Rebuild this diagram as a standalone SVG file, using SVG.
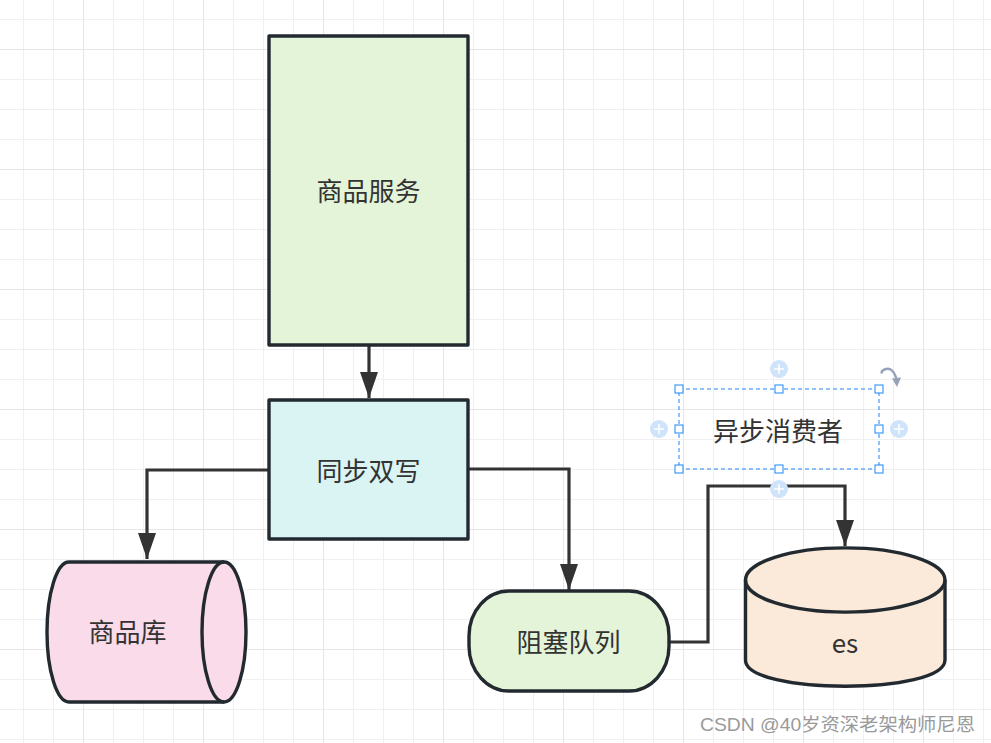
<svg xmlns="http://www.w3.org/2000/svg" width="991" height="743" viewBox="0 0 991 743">
<style>
.shape{stroke:#222a30;stroke-width:3.4;stroke-linejoin:round}
.conn{fill:none;stroke:#333333;stroke-width:3.2}
.lbl{font-family:"Noto Sans CJK SC","Noto Sans",sans-serif;font-size:26px;fill:#333333;text-anchor:middle}
.hd{fill:#ffffff;stroke:#1a87f5;stroke-width:1}
.plus{fill:#cfe3fb}
.pl{stroke:#ffffff;stroke-width:1.5}
</style>
<defs>
<pattern id="gMinor" x="23" y="19" width="30" height="30" patternUnits="userSpaceOnUse">
<path d="M0 0.5H30M0.5 0V30" stroke="#f0f0f0" stroke-width="1" fill="none"/>
</pattern>
<pattern id="gMajor" x="83" y="49" width="120" height="120" patternUnits="userSpaceOnUse">
<path d="M0 0.5H120M0.5 0V120" stroke="#e6e6e6" stroke-width="1" fill="none"/>
</pattern>
<marker id="arr" viewBox="0 0 26 18" refX="26" refY="9" markerWidth="26" markerHeight="18" markerUnits="userSpaceOnUse" orient="auto">
<path d="M0 0L26 9L0 18Z" fill="#333333"/>
</marker>
</defs>
<rect width="991" height="743" fill="#ffffff"/>
<rect width="991" height="743" fill="url(#gMinor)"/>
<rect width="991" height="743" fill="url(#gMajor)"/>

<g id="connectors">
<path class="conn" d="M369 345V398" marker-end="url(#arr)"/>
<path class="conn" d="M269 470H147V559" marker-end="url(#arr)"/>
<path class="conn" d="M469 469H569V590" marker-end="url(#arr)"/>
<path class="conn" d="M669 642H708V486H845V546" marker-end="url(#arr)"/>
</g>

<g id="node-service">
<rect class="shape" x="269" y="36" width="199" height="309" fill="#e4f4d9"/>
<text class="lbl" x="368.5" y="201">商品服务</text>
</g>

<g id="node-dualwrite">
<rect class="shape" x="269" y="400" width="199" height="139" fill="#daf3f3"/>
<text class="lbl" x="368.5" y="481">同步双写</text>
</g>

<g id="node-db">
<path class="shape" d="M69 562H224A22 70 0 0 1 224 702H69A22 70 0 0 1 69 562Z" fill="#f9dbea"/>
<path class="shape" d="M224 562A22 70 0 0 0 224 702" fill="none"/>
<text class="lbl" x="127.5" y="642">商品库</text>
</g>

<g id="node-queue">
<rect class="shape" x="469" y="591" width="200" height="100" rx="40" ry="45" fill="#e4f4d9"/>
<text class="lbl" x="568.5" y="652">阻塞队列</text>
</g>

<g id="node-es">
<path class="shape" d="M745.5 580A99.5 32 0 0 1 945 580V660C945 695 745.5 695 745.5 660Z" fill="#fbe9da"/>
<path class="shape" d="M745.5 580A99.5 32 0 0 0 945 580" fill="none"/>
<text class="lbl" x="845" y="653">es</text>
</g>

<g id="node-consumer">
<text class="lbl" x="778" y="441">异步消费者</text>
<rect x="679" y="389" width="200" height="80" fill="none" stroke="#1a87f5" stroke-width="1" stroke-dasharray="4 3"/>
<rect class="hd" x="675" y="385" width="8" height="8"/>
<rect class="hd" x="775" y="385" width="8" height="8"/>
<rect class="hd" x="875" y="385" width="8" height="8"/>
<rect class="hd" x="675" y="425" width="8" height="8"/>
<rect class="hd" x="875" y="425" width="8" height="8"/>
<rect class="hd" x="675" y="465" width="8" height="8"/>
<rect class="hd" x="775" y="465" width="8" height="8"/>
<rect class="hd" x="875" y="465" width="8" height="8"/>
<circle class="plus" cx="779" cy="369" r="9"/>
<path class="pl" d="M774 369H784M779 364V374"/>
<circle class="plus" cx="659" cy="429" r="9"/>
<path class="pl" d="M654 429H664M659 424V434"/>
<circle class="plus" cx="899" cy="429" r="9"/>
<path class="pl" d="M894 429H904M899 424V434"/>
<circle class="plus" cx="779" cy="489" r="9"/>
<path class="pl" d="M774 489H784M779 484V494"/>
<path d="M881.5 373.5L882 371Q892 364 896.5 379" fill="none" stroke="#95a3b8" stroke-width="2.5"/>
<path d="M892 378.5L897 387L901 377.5Z" fill="#95a3b8"/>
</g>

<text x="700" y="731" font-family="Liberation Sans,'Noto Sans CJK SC',sans-serif" font-size="18" fill="#9a9a9a" textLength="275" lengthAdjust="spacingAndGlyphs">CSDN @40岁资深老架构师尼恩</text>
</svg>
